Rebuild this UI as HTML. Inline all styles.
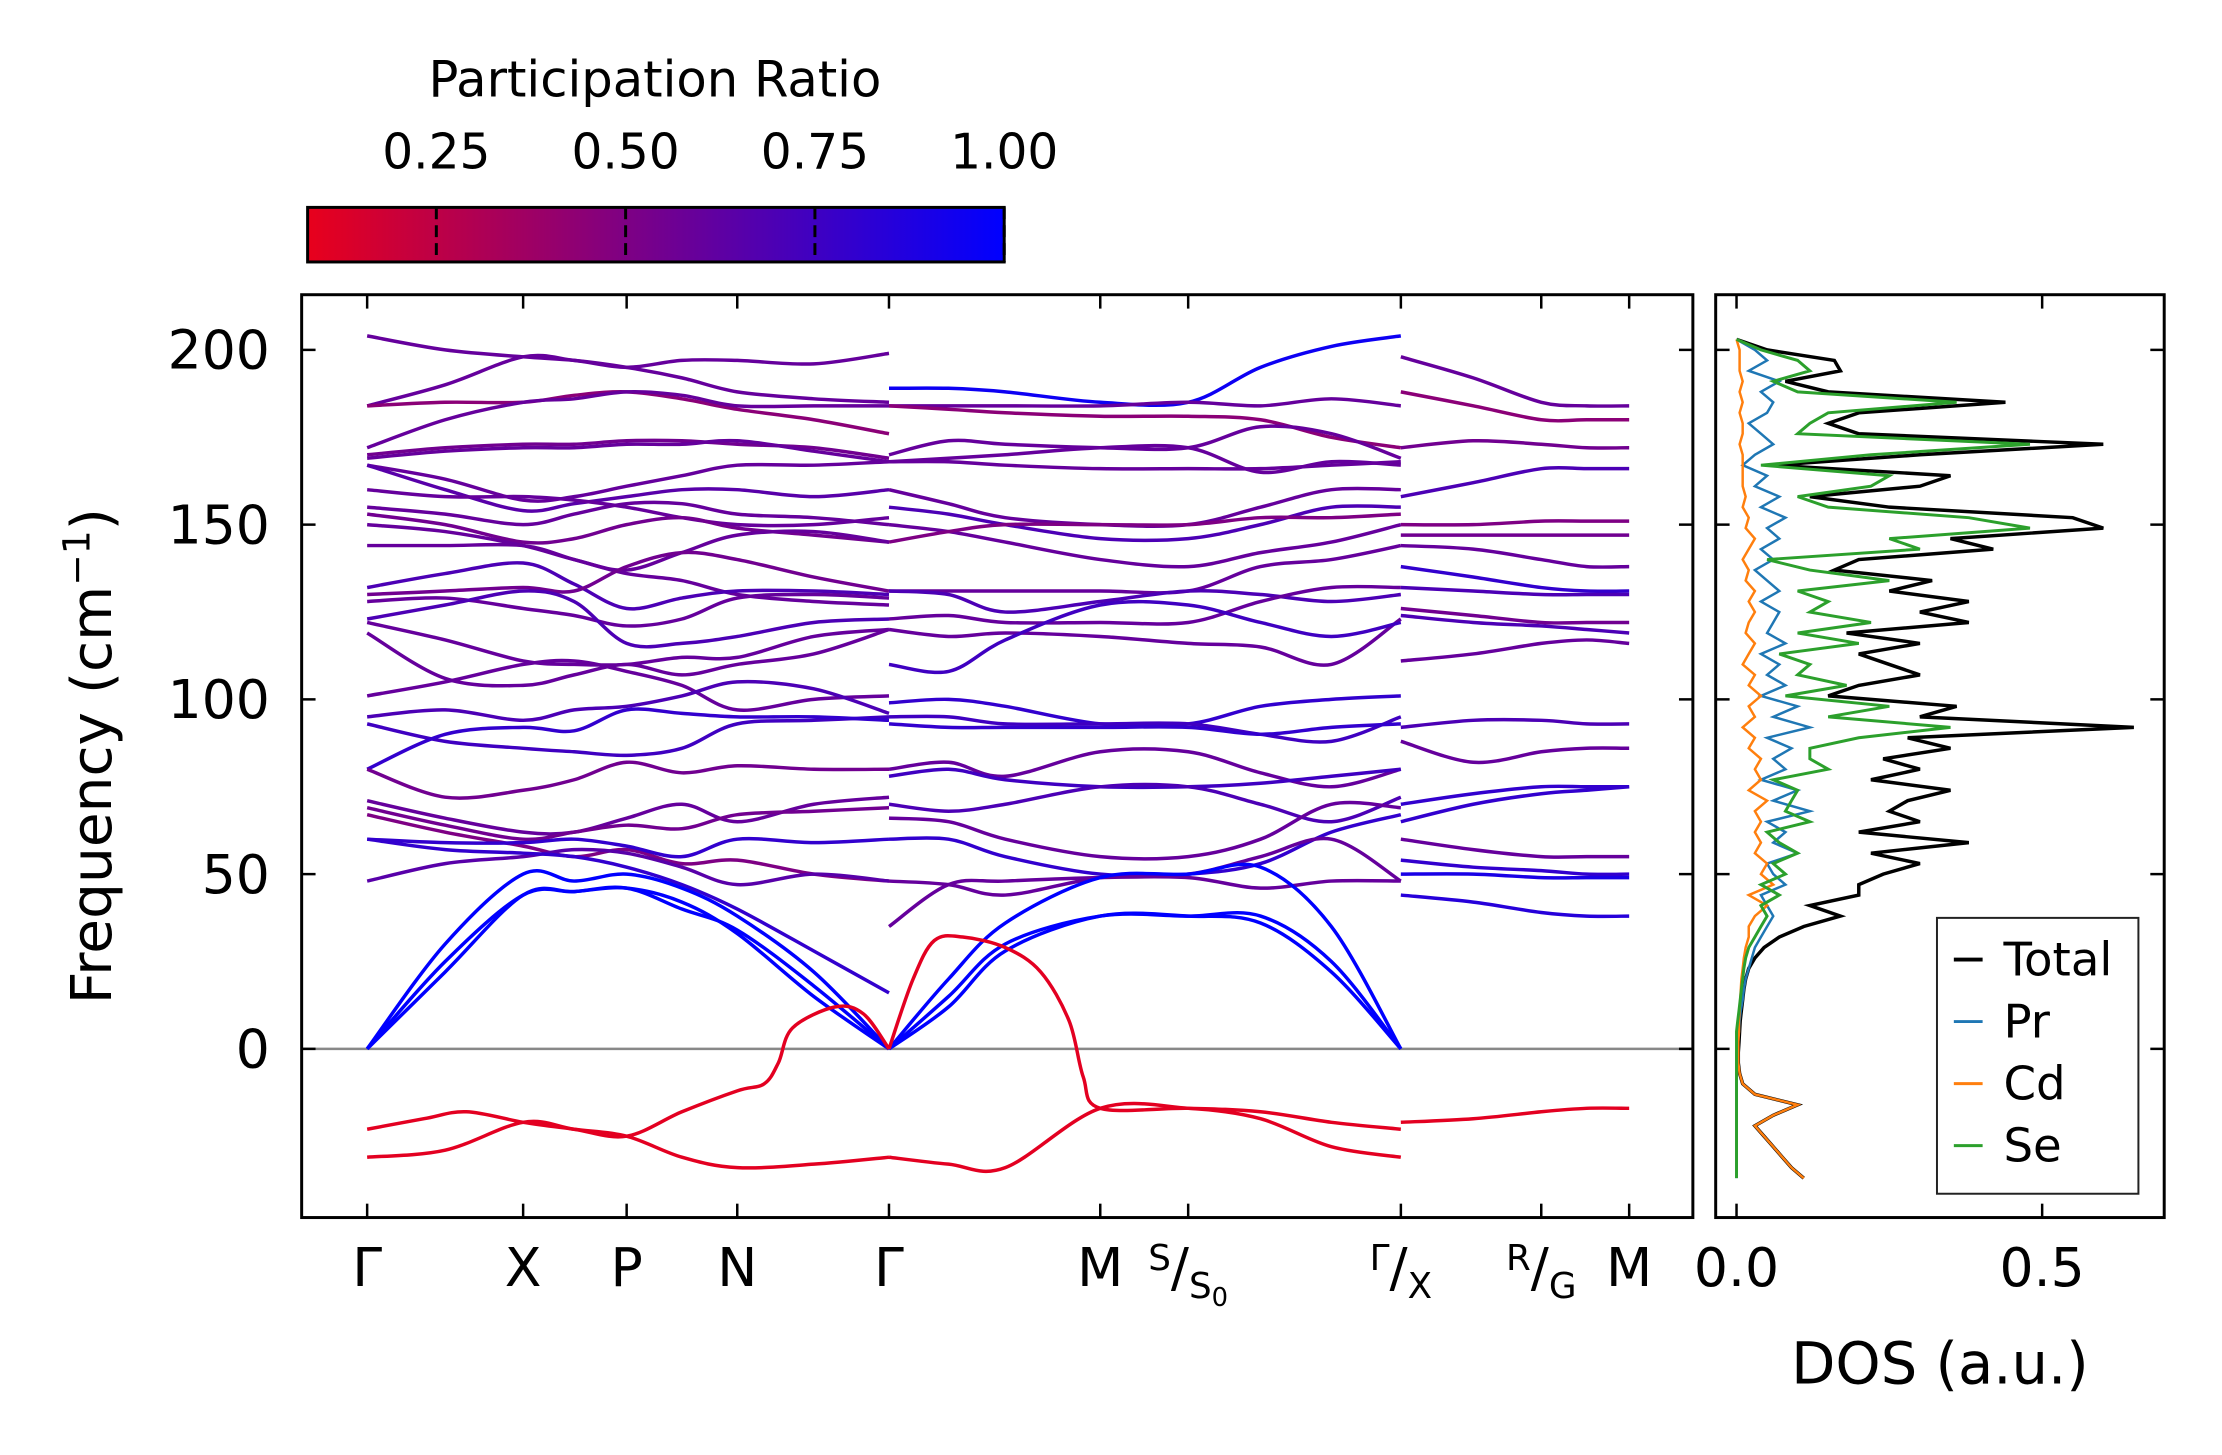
<!DOCTYPE html>
<html><head><meta charset="utf-8">
<style>
html,body{margin:0;padding:0;background:#fff;}
svg{display:block;font-family:"DejaVu Sans","Liberation Sans",sans-serif;}
</style></head>
<body>
<svg id="fig" width="2222" height="1455" viewBox="0 0 2222 1455" xmlns="http://www.w3.org/2000/svg">
<defs>
<linearGradient id="cbgrad" x1="0" x2="1" y1="0" y2="0">
<stop offset="0" stop-color="#e8001c"/><stop offset="1" stop-color="#0000ff"/>
</linearGradient>
<clipPath id="mainclip"><rect x="304" y="297" width="1402" height="930"/></clipPath>
<clipPath id="dosclip"><rect x="1729" y="297" width="452" height="930"/></clipPath>
</defs>
<g transform="scale(0.9923)">
<g id="colorbar">
<text x="660" y="97" font-size="50" text-anchor="middle">Participation Ratio</text>
<rect x="310" y="209" width="702" height="55" fill="url(#cbgrad)" stroke="#000" stroke-width="3"/>
<g id="cbticks"></g>
</g>
<g id="main">
<line x1="304" x2="1706" id="zeroline" stroke="#888" stroke-width="2.5"/>
<g id="bands" clip-path="url(#mainclip)"></g>
<rect x="304" y="297" width="1402" height="930" fill="none" stroke="#000" stroke-width="3"/>
<g id="mainticks"></g>
<text transform="translate(112,762) rotate(-90)" font-size="57" text-anchor="middle">Frequency (cm<tspan dy="-22" font-size="38">−1</tspan><tspan dy="22">)</tspan></text>
</g>
<g id="dos">
<g id="doslines" clip-path="url(#dosclip)"></g>
<rect x="1729" y="297" width="452" height="930" fill="none" stroke="#000" stroke-width="3"/>
<g id="dosticks"></g>
<text x="1955" y="1394" font-size="58" text-anchor="middle">DOS (a.u.)</text>
<g>
<rect x="1952" y="925" width="203" height="278" fill="#fff" stroke="#222" stroke-width="2"/>
<g id="legendentries"></g>
</g>
</g>
</g>
</svg>
<script>
// ---------- data ----------
const kTicks = [0, 1.1, 1.83, 2.61, 3.68, 5.17, 5.79, 7.29, 8.28, 8.90];
const kTickLabels = ["Γ","X","P","N","Γ","M","S/S0","Γ/X","R/G","M"];
const freqTicks = [0, 50, 100, 150, 200];
const cbTicks = [0.25, 0.5, 0.75, 1.0];
const cbTickLabels = ["0.25","0.50","0.75","1.00"];
const dosTicks = [0.0, 0.5];
const dosTickLabels = ["0.0","0.5"];

const kGridA = [0, 0.55, 1.1, 1.46, 1.83, 2.22, 2.61, 3.15, 3.68];
const bandsA = [
[204,200,198,197,195,197,197,196,199],
[184,190,198,197,195,192,188,186,185],
[184,185,185,187,188,186,183,180,176],
[172,180,185,186,188,187,184,184,184],
[170,172,173,173,174,174,173,172,169],
[169,171,172,172,173,173,174,171,168],
[167,163,157,158,161,164,167,167,168],
[167,160,154,156,158,160,160,158,160],
[160,158,158,157,155,152,150,150,152],
[155,153,150,153,156,156,153,152,150],
[153,150,145,146,150,152,149,147,145],
[150,148,144,140,137,142,147,148,145],
[144,144,144,140,136,134,130,128,127],
[132,136,139,133,126,129,131,131,130],
[130,131,132,131,138,142,140,135,131],
[128,129,126,124,121,123,129,130,129],
[123,127,131,128,116,116,118,122,123],
[122,117,111,110,110,112,112,118,120],
[119,106,104,107,110,107,110,113,120],
[101,105,110,111,108,104,97,100,101],
[95,97,94,97,98,101,105,103,96],
[93,88,86,85,84,86,93,94,95],
[80,90,92,91,97,96,95,95,94],
[80,72,74,77,82,79,81,80,80],
[71,66,62,62,66,70,65,70,72],
[69,64,60,62,64,63,67,68,69],
[67,62,58,55,57,53,54,50,48],
[60,59,59,60,58,55,60,59,60],
[48,53,55,57,56,52,47,50,48],
[60,57,56,55,52,47,40,28,16],
[0,30,50,48,50,46,38,22,0],
[0,25,44,45,46,40,34,18,0],
[0,22,44,45,46,42,33,15,0],
[-31,-29,-21,-23,-25,-31,-34,-33,-31]
];
const prA = [0.6,0.6,0.45,0.6,0.55,0.6,0.6,0.65,0.6,0.6,0.55,0.6,0.6,0.7,0.55,0.6,0.7,0.6,0.6,0.6,0.7,0.75,0.8,0.55,0.6,0.55,0.5,0.8,0.65,0.8,1,1,1,0.1];

const kRedA = [0, 0.4, 0.7, 1.1, 1.46, 1.83, 2.22, 2.61, 2.8, 2.9, 3.0, 3.3, 3.5, 3.68];
const redA = [-23,-20,-18,-21,-23,-25,-18,-12,-10,-4,6,12,10,0];

const kGridB = [3.68, 4.1, 4.5, 5.17, 5.79, 6.3, 6.8, 7.29];
const bandsB = [
[189,189,188,185,185,195,201,204],
[184,184,184,184,185,184,186,184],
[184,183,182,181,181,180,175,172],
[170,174,173,172,172,178,176,169],
[168,169,170,172,172,165,168,167],
[168,168,167,166,166,166,167,168],
[160,156,152,150,150,155,160,160],
[155,153,150,146,146,150,155,155],
[150,148,145,140,138,142,145,150],
[145,148,150,150,150,152,152,153],
[131,131,131,131,131,138,140,144],
[131,130,125,128,131,130,128,130],
[123,124,122,122,122,128,132,132],
[120,118,119,118,116,115,110,123],
[110,108,117,127,127,122,118,122],
[99,100,98,93,93,98,100,101],
[95,95,93,93,93,90,88,95],
[93,92,92,92,92,90,92,93],
[80,82,78,85,85,79,75,80],
[78,80,77,75,75,76,78,80],
[70,68,70,75,75,70,65,72],
[66,65,60,55,55,60,70,69],
[60,60,55,50,50,53,62,67],
[48,47,44,49,50,55,60,48],
[35,47,48,49,49,46,48,48],
[0,20,36,49,50,52,35,0],
[0,15,30,38,38,38,25,0],
[0,12,28,38,38,36,22,0],
[-31,-33,-34,-17,-17,-20,-28,-31]
];
const prB = [0.95,0.6,0.45,0.6,0.6,0.6,0.6,0.7,0.6,0.5,0.6,0.7,0.6,0.6,0.75,0.8,0.75,0.8,0.6,0.75,0.7,0.6,0.8,0.6,0.6,1,1,1,0.1];

const kRedB = [3.68, 3.85, 4.0, 4.2, 4.5, 4.75, 4.95, 5.05, 5.17, 5.79, 6.3, 6.8, 7.29];
const redB = [0, 20, 31, 32, 29, 22, 8, -8, -17, -17, -18, -21, -23];

const kGridC = [7.29, 7.8, 8.28, 8.6, 8.9];
const bandsC = [
[198,192,185,184,184],
[188,184,180,180,180],
[172,174,173,172,172],
[158,162,166,166,166],
[150,150,151,151,151],
[147,147,147,147,147],
[144,143,140,138,138],
[138,135,132,131,131],
[132,131,130,130,130],
[126,124,122,122,122],
[124,122,121,120,119],
[111,113,116,117,116],
[92,94,94,93,93],
[88,82,85,86,86],
[70,73,75,75,75],
[65,70,73,74,75],
[60,57,55,55,55],
[54,52,51,50,50],
[50,50,49,49,49],
[44,42,39,38,38],
[-21,-20,-18,-17,-17]
];
const prC = [0.6,0.45,0.55,0.7,0.5,0.55,0.6,0.8,0.7,0.55,0.7,0.6,0.7,0.6,0.8,0.8,0.6,0.8,0.9,0.85,0.1];

const dosFreq = [-37,-34,-31,-28,-25,-22,-19,-16,-13,-10,-7,-4,-1,2,5,8,11,14,17,20,23,26,29,32,35,38,41,44,47,50,53,56,59,62,65,68,71,74,77,80,83,86,89,92,95,98,101,104,107,110,113,116,119,122,125,128,131,134,137,140,143,146,149,152,155,158,161,164,167,170,173,176,179,182,185,188,191,194,197,200,203];
const dosTotal = [0.11,0.09,0.075,0.06,0.045,0.03,0.06,0.1,0.03,0.01,0.005,0.003,0.003,0.004,0.005,0.006,0.008,0.01,0.012,0.015,0.02,0.03,0.045,0.07,0.11,0.17,0.12,0.2,0.2,0.24,0.3,0.22,0.38,0.2,0.3,0.25,0.28,0.35,0.22,0.3,0.24,0.35,0.28,0.65,0.3,0.36,0.15,0.2,0.3,0.25,0.2,0.3,0.18,0.38,0.3,0.38,0.25,0.32,0.16,0.2,0.42,0.35,0.6,0.55,0.25,0.12,0.3,0.35,0.06,0.3,0.6,0.2,0.15,0.2,0.44,0.15,0.08,0.17,0.16,0.05,0.0];
const dosSe = [0.0,0.0,0.0,0.0,0.0,0.0,0.0,0.0,0.0,0.0,0.0,0.0,0.0,0.0,0.0,0.002,0.004,0.006,0.008,0.01,0.012,0.015,0.02,0.03,0.04,0.05,0.04,0.07,0.04,0.08,0.06,0.1,0.07,0.05,0.12,0.08,0.09,0.1,0.06,0.15,0.12,0.12,0.2,0.35,0.15,0.25,0.08,0.18,0.1,0.12,0.07,0.2,0.1,0.22,0.12,0.15,0.1,0.25,0.12,0.05,0.3,0.25,0.48,0.38,0.15,0.1,0.22,0.25,0.04,0.22,0.48,0.1,0.12,0.15,0.36,0.1,0.06,0.12,0.1,0.04,0.0];
const dosPr = [0.0,0.0,0.0,0.0,0.0,0.0,0.0,0.0,0.0,0.0,0.0,0.0,0.0,0.002,0.004,0.005,0.007,0.01,0.012,0.015,0.02,0.025,0.03,0.04,0.05,0.06,0.05,0.04,0.08,0.06,0.05,0.1,0.06,0.08,0.05,0.12,0.06,0.1,0.04,0.08,0.06,0.09,0.05,0.12,0.06,0.1,0.04,0.08,0.05,0.07,0.04,0.08,0.05,0.06,0.07,0.04,0.07,0.05,0.03,0.06,0.04,0.07,0.05,0.08,0.04,0.07,0.03,0.05,0.01,0.03,0.06,0.04,0.02,0.05,0.06,0.04,0.07,0.02,0.05,0.03,0.0];
const dosCd = [0.11,0.09,0.075,0.06,0.045,0.03,0.06,0.1,0.03,0.01,0.005,0.003,0.003,0.003,0.004,0.004,0.005,0.006,0.007,0.008,0.01,0.012,0.015,0.02,0.02,0.03,0.05,0.02,0.06,0.04,0.05,0.03,0.04,0.03,0.04,0.03,0.05,0.02,0.04,0.03,0.04,0.02,0.03,0.01,0.03,0.02,0.04,0.02,0.03,0.01,0.02,0.03,0.015,0.02,0.03,0.02,0.03,0.015,0.02,0.01,0.02,0.03,0.015,0.02,0.01,0.015,0.01,0.01,0.01,0.01,0.005,0.01,0.01,0.005,0.01,0.005,0.01,0.005,0.005,0.005,0.0];

// ---------- scales ----------
const NS = "http://www.w3.org/2000/svg";
const xK = k => 370 + k * 142.9;
const yF = f => 1057 - f * 3.522;
const xD = d => 1750 + d * 616;
function prColor(p){ const t = Math.max(0, Math.min(1,(p-0.08)/0.92)); const r=Math.round(232*(1-t)), b=Math.round(28+227*t); return `rgb(${r},0,${b})`; }
function cr(pts){
  let d = `M${pts[0][0].toFixed(1)},${pts[0][1].toFixed(1)}`;
  for(let i=0;i<pts.length-1;i++){
    const p0=pts[i-1]||pts[i], p1=pts[i], p2=pts[i+1], p3=pts[i+2]||p2;
    const c1=[p1[0]+(p2[0]-p0[0])/6, p1[1]+(p2[1]-p0[1])/6];
    const c2=[p2[0]-(p3[0]-p1[0])/6, p2[1]-(p3[1]-p1[1])/6];
    d+=` C${c1[0].toFixed(1)},${c1[1].toFixed(1)} ${c2[0].toFixed(1)},${c2[1].toFixed(1)} ${p2[0].toFixed(1)},${p2[1].toFixed(1)}`;
  }
  return d;
}
function mk(tag, attrs, parent){ const e=document.createElementNS(NS,tag); for(const a in attrs) e.setAttribute(a, attrs[a]); parent.appendChild(e); return e; }

// ---------- bands ----------
const bandsG = document.getElementById('bands');
function drawSet(grid, bands, prs){
  bands.forEach((b,i)=>{
    const pts = b.map((f,j)=>[xK(grid[j]), yF(f)]);
    const p = mk('path',{d:cr(pts), fill:'none', stroke:prColor(prs[i]), 'stroke-width':3.5}, bandsG);
    
    
  });
}
drawSet(kGridA, bandsA, prA);
drawSet(kGridB, bandsB, prB);
drawSet(kGridC, bandsC, prC);
drawSet(kRedA, [redA], [0.1]);
drawSet(kRedB, [redB], [0.1]);
document.getElementById('zeroline').setAttribute('y1', yF(0));
document.getElementById('zeroline').setAttribute('y2', yF(0));

// ---------- main ticks ----------
const mt = document.getElementById('mainticks');
freqTicks.forEach(f=>{
  const y=yF(f);
  mk('line',{x1:304,x2:318,y1:y,y2:y,stroke:'#000','stroke-width':2.5},mt);
  mk('line',{x1:1692,x2:1706,y1:y,y2:y,stroke:'#000','stroke-width':2.5},mt);
  const t=mk('text',{x:272,y:y+19,'font-size':54,'text-anchor':'end'},mt);
  t.textContent=String(f);
  
  
});
kTicks.forEach((k,i)=>{
  const x=xK(k);
  mk('line',{x1:x,x2:x,y1:1227,y2:1213,stroke:'#000','stroke-width':2.5},mt);
  mk('line',{x1:x,x2:x,y1:297,y2:311,stroke:'#000','stroke-width':2.5},mt);
  const lab=kTickLabels[i];
  let t;
  if(lab.includes('/')){
    const [a,b]=lab.split('/');
    t=mk('text',{x:x,y:1296,'font-size':54,'text-anchor':'middle'},mt);
    const s1=mk('tspan',{'font-size':36,dy:-16},t); s1.textContent=a;
    const s2=mk('tspan',{dy:16},t); s2.textContent='/';
    if(b==='S0'){ const s3=mk('tspan',{'font-size':36,dy:12},t); s3.textContent='S'; const s4=mk('tspan',{'font-size':26,dy:8},t); s4.textContent='0'; }
    else { const s3=mk('tspan',{'font-size':36,dy:12},t); s3.textContent=b; }
  } else {
    t=mk('text',{x:x,y:1296,'font-size':54,'text-anchor':'middle'},mt);
    t.textContent=lab;
  }
  
  
});

// ---------- colorbar ticks ----------
const cbg=document.getElementById('cbticks');
const xC = p => 310 + (p-0.08)/0.92*702;
cbTicks.forEach((p,i)=>{
  const x=xC(p);
  mk('line',{x1:x,x2:x,y1:209,y2:264,stroke:'#000','stroke-width':3,'stroke-dasharray':'12,6'},cbg);
  const t=mk('text',{x:x,y:170,'font-size':49,'text-anchor':'middle'},cbg);
  t.textContent=cbTickLabels[i];
  
  
});

// ---------- DOS ----------
const dl=document.getElementById('doslines');
const series=[[dosTotal,'#000',3.5,'dos-total'],[dosPr,'#1f77b4',2.5,'dos-pr'],[dosCd,'#ff7f0e',2.5,'dos-cd'],[dosSe,'#2ca02c',3,'dos-se']];
series.forEach(s=>{
  const pts=s[0].map((v,i)=>`${xD(v).toFixed(1)},${yF(dosFreq[i]).toFixed(1)}`).join(' ');
  const pl=mk('polyline',{points:pts,fill:'none',stroke:s[1],'stroke-width':s[2]},dl);
  
  
});
const dt=document.getElementById('dosticks');
freqTicks.forEach(f=>{
  const y=yF(f);
  mk('line',{x1:1729,x2:1743,y1:y,y2:y,stroke:'#000','stroke-width':2.5},dt);
  mk('line',{x1:2167,x2:2181,y1:y,y2:y,stroke:'#000','stroke-width':2.5},dt);
});
dosTicks.forEach((d,i)=>{
  const x=xD(d);
  mk('line',{x1:x,x2:x,y1:1227,y2:1213,stroke:'#000','stroke-width':2.5},dt);
  mk('line',{x1:x,x2:x,y1:297,y2:311,stroke:'#000','stroke-width':2.5},dt);
  const t=mk('text',{x:x,y:1296,'font-size':54,'text-anchor':'middle'},dt);
  t.textContent=dosTickLabels[i];
  
  
});
const legNames=['Total','Pr','Cd','Se'];
const legColors=['#000','#1f77b4','#ff7f0e','#2ca02c'];
const lg=document.getElementById('legendentries');
legNames.forEach((n,i)=>{
  const y=967+i*62.5;
  mk('line',{x1:1969,x2:1998,y1:y,y2:y,stroke:legColors[i],'stroke-width':i===0?4:3},lg);
  const t=mk('text',{x:2019,y:y+16,'font-size':47},lg);
  t.textContent=n;
  
  
});
</script>
</body></html>
